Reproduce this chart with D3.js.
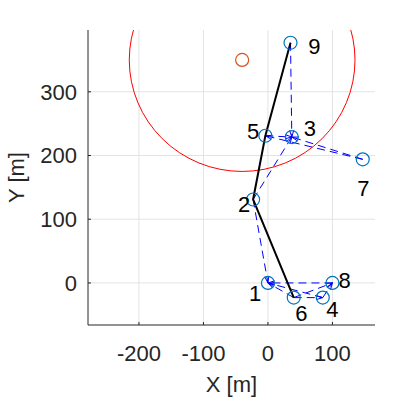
<!DOCTYPE html>
<html>
<head>
<meta charset="utf-8">
<script src="https://cdn.jsdelivr.net/npm/d3@7"></script>
<style>
    body { margin: 0; background: #fff; }
    svg { display: block; font-family: "Liberation Sans", Arial, sans-serif; }
</style>
</head>
<body>
<div id="chart"></div>
<script>
// node positions [m]
const nodeIds = [1, 2, 3, 4, 5, 6, 7, 8, 9];
const nodeX = [0, -23, 37, 85, -4, 40, 147, 100, 35];
const nodeY = [0, 131, 229, -23, 231, -23, 194, 0, 377];

// where the number labels sit [m]
const labelX = [-20, -37, 65, 100, -23, 52, 148, 119, 72];
const labelY = [-16, 123, 243, -41, 239, -47, 149, 5, 371];

// dashed links (from, to)
const linkFrom = [8, 6, 4, 2, 2, 9, 5, 7, 7, 6, 6, 4];
const linkTo   = [1, 1, 1, 1, 3, 3, 3, 3, 5, 4, 8, 8];

// solid path
const pathNodes = [9, 5, 2, 6];

// reference point and range circle
const refX = [-40];
const refY = [350];
const refRadius = [175];

const xTicks = [-200, -100, 0, 100];
const yTicks = [0, 100, 200, 300];
const xDomain = [-279, 166];
const yDomain = [-66, 397];

const width = 415;
const height = 397;
const margins = { top: 30, right: 40, bottom: 72, left: 88 };
const innerWidth = width - margins.left - margins.right;
const innerHeight = height - margins.top - margins.bottom;

const svg = d3.select('#chart')
    .append('svg')
    .attr('width', width)
    .attr('height', height);

const g = svg.append('g')
    .attr('transform', `translate(${margins.left},${margins.top})`);

const x = d3.scaleLinear().domain(xDomain).range([0, innerWidth]);
const y = d3.scaleLinear().domain(yDomain).range([innerHeight, 0]);

svg.append('defs').append('clipPath')
    .attr('id', 'plot-clip')
    .append('rect')
    .attr('width', innerWidth)
    .attr('height', innerHeight);

// grid
g.append('g').selectAll('line')
    .data(xTicks)
    .join('line')
    .attr('x1', d => x(d)).attr('x2', d => x(d))
    .attr('y1', 0).attr('y2', innerHeight)
    .attr('stroke', '#e3e3e3');
g.append('g').selectAll('line')
    .data(yTicks)
    .join('line')
    .attr('y1', d => y(d)).attr('y2', d => y(d))
    .attr('x1', 0).attr('x2', innerWidth)
    .attr('stroke', '#e3e3e3');

const plot = g.append('g').attr('clip-path', 'url(#plot-clip)');

// range circle
plot.append('ellipse')
    .attr('cx', x(refX[0]))
    .attr('cy', y(refY[0]))
    .attr('rx', x(refRadius[0]) - x(0))
    .attr('ry', y(0) - y(refRadius[0]))
    .attr('fill', 'none')
    .attr('stroke', '#ff0000')
    .attr('stroke-width', 1);

const idx = id => nodeIds.indexOf(id);

// dashed links with small arrow heads at the target
const links = linkFrom.map((f, i) => ({ from: idx(f), to: idx(linkTo[i]) }));
plot.append('g').selectAll('line')
    .data(links)
    .join('line')
    .attr('x1', d => x(nodeX[d.from]))
    .attr('y1', d => y(nodeY[d.from]))
    .attr('x2', d => x(nodeX[d.to]))
    .attr('y2', d => y(nodeY[d.to]))
    .attr('stroke', '#0000ff')
    .attr('stroke-width', 1)
    .attr('stroke-dasharray', '8,5');

plot.append('g').selectAll('path')
    .data(links)
    .join('path')
    .attr('d', d => {
        const x1 = x(nodeX[d.from]), y1 = y(nodeY[d.from]);
        const x2 = x(nodeX[d.to]), y2 = y(nodeY[d.to]);
        const a = Math.atan2(y2 - y1, x2 - x1);
        const len = 7, spread = 0.3;
        const p1 = [x2 - len * Math.cos(a - spread), y2 - len * Math.sin(a - spread)];
        const p2 = [x2 - len * Math.cos(a + spread), y2 - len * Math.sin(a + spread)];
        return `M${p1[0]},${p1[1]}L${x2},${y2}L${p2[0]},${p2[1]}`;
    })
    .attr('fill', 'none')
    .attr('stroke', '#0000ff')
    .attr('stroke-width', 1);

// solid path
plot.append('path')
    .datum(pathNodes.map(idx))
    .attr('d', d3.line().x(i => x(nodeX[i])).y(i => y(nodeY[i])))
    .attr('fill', 'none')
    .attr('stroke', '#000')
    .attr('stroke-width', 2);

// node markers
plot.append('g').selectAll('circle')
    .data(nodeIds.map((_, i) => i))
    .join('circle')
    .attr('cx', i => x(nodeX[i]))
    .attr('cy', i => y(nodeY[i]))
    .attr('r', 6.5)
    .attr('fill', 'none')
    .attr('stroke', '#0072BD')
    .attr('stroke-width', 1.2);

// reference marker
plot.append('circle')
    .attr('cx', x(refX[0]))
    .attr('cy', y(refY[0]))
    .attr('r', 6.5)
    .attr('fill', 'none')
    .attr('stroke', '#D95319')
    .attr('stroke-width', 1.2);

// number labels
g.append('g').selectAll('text')
    .data(nodeIds.map((_, i) => i))
    .join('text')
    .attr('x', i => x(labelX[i]))
    .attr('y', i => y(labelY[i]))
    .attr('text-anchor', 'middle')
    .attr('dy', '0.36em')
    .attr('font-size', 22)
    .attr('fill', '#000')
    .text(i => nodeIds[i]);

// axes
const axisColor = '#262626';
g.append('line')
    .attr('x1', 0).attr('x2', innerWidth)
    .attr('y1', innerHeight).attr('y2', innerHeight)
    .attr('stroke', axisColor);
g.append('line')
    .attr('x1', 0).attr('x2', 0)
    .attr('y1', 0).attr('y2', innerHeight)
    .attr('stroke', axisColor);

g.append('g').selectAll('line')
    .data(xTicks)
    .join('line')
    .attr('x1', d => x(d)).attr('x2', d => x(d))
    .attr('y1', innerHeight).attr('y2', innerHeight - 3)
    .attr('stroke', axisColor);
g.append('g').selectAll('line')
    .data(yTicks)
    .join('line')
    .attr('y1', d => y(d)).attr('y2', d => y(d))
    .attr('x1', 0).attr('x2', 3)
    .attr('stroke', axisColor);

g.append('g').selectAll('text')
    .data(xTicks)
    .join('text')
    .attr('x', d => x(d))
    .attr('y', innerHeight + 28)
    .attr('text-anchor', 'middle')
    .attr('dy', '0.36em')
    .attr('font-size', 22)
    .attr('fill', axisColor)
    .text(d => d);
g.append('g').selectAll('text')
    .data(yTicks)
    .join('text')
    .attr('x', -11)
    .attr('y', d => y(d))
    .attr('text-anchor', 'end')
    .attr('dy', '0.36em')
    .attr('font-size', 22)
    .attr('fill', axisColor)
    .text(d => d);

// axis titles
svg.append('text')
    .attr('x', margins.left + innerWidth / 2)
    .attr('y', 384)
    .attr('text-anchor', 'middle')
    .attr('dy', '0.36em')
    .attr('font-size', 22)
    .attr('fill', axisColor)
    .text('X [m]');
svg.append('text')
    .attr('transform', `translate(16,${margins.top + innerHeight / 2}) rotate(-90)`)
    .attr('text-anchor', 'middle')
    .attr('dy', '0.36em')
    .attr('font-size', 22)
    .attr('fill', axisColor)
    .text('Y [m]');
</script>
</body>
</html>
